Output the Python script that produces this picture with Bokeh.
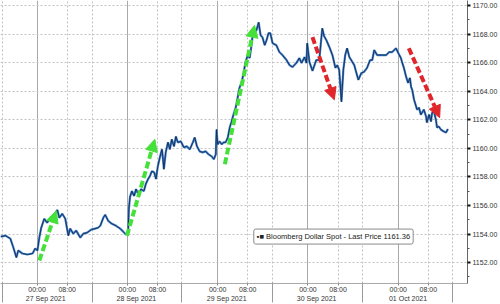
from bokeh.plotting import figure
from bokeh.models import (FixedTicker, LinearAxis, Grid, Arrow, NormalHead,
                          Label, Range1d, PrintfTickFormatter)
from bokeh.embed import file_html
from bokeh.resources import INLINE

# hours since 27 Sep 2021 00:00
hours = [-9.7, -8.4, -7.1, -6.3, -5.5, -5.0, -3.9, -2.6, -1.2, -0.5, 0.1, 0.6, 1.1, 1.9, 2.7,
         3.5, 4.3, 5.4, 5.9, 6.7, 7.5, 8.3, 8.8, 9.6, 10.4, 11.5, 12.3, 13.3, 14.4, 15.4,
         16.2, 16.8, 17.6, 18.1, 18.9, 19.9, 21.0, 22.1, 22.9, 23.6, 24.2, 24.4, 24.7, 25.2,
         25.8, 26.3, 27.1, 27.6, 28.4, 28.9, 29.5, 30.0, 30.5, 31.1, 31.6, 32.1, 32.7, 33.2,
         33.4, 33.7, 34.2, 34.8, 35.3, 35.8, 36.4, 36.9, 37.4, 38.2, 39.0, 39.8, 40.6, 41.4,
         41.9, 42.5, 43.2, 44.0, 44.8, 45.6, 46.4, 47.0, 47.5, 47.7, 48.0, 48.5, 49.1, 49.6,
         50.1, 50.7, 51.2, 51.7, 52.2, 52.8, 53.3, 53.8, 54.4, 54.9, 55.4, 56.0, 56.5, 57.0,
         57.3, 57.8, 58.3, 58.9, 59.4, 59.9, 60.5, 61.0, 61.5, 62.0, 62.6, 63.6, 64.4, 65.2,
         66.3, 67.1, 67.9, 68.9, 69.7, 70.3, 71.1, 71.6, 71.8, 72.4, 73.2, 74.2, 75.0, 75.8,
         76.3, 76.9, 77.7, 78.5, 79.3, 79.8, 80.3, 80.9, 81.4, 81.9, 82.4, 83.0, 83.5, 84.3,
         84.8, 85.4, 86.2, 86.9, 87.7, 88.5, 89.1, 89.6, 90.4, 91.5, 92.8, 93.6, 94.4, 95.4,
         96.0, 96.7, 97.0, 97.5, 98.1, 98.6, 99.1, 99.4, 99.7, 100.2, 101.0, 101.5, 102.0,
         102.8, 103.4, 103.6, 104.2, 104.7, 105.0, 105.5, 106.0, 106.3, 106.8, 107.3, 108.1,
         108.7, 109.2]
price = [1153.82, 1153.89, 1153.68, 1153.06, 1152.36, 1152.85, 1152.64, 1152.57, 1152.64,
         1152.99, 1152.85, 1153.75, 1154.44, 1155.07, 1154.79, 1155.14, 1155.28, 1155.69,
         1155.14, 1155.42, 1155.07, 1153.89, 1154.38, 1154.03, 1154.24, 1153.75, 1154.03,
         1154.10, 1154.31, 1154.38, 1154.44, 1154.58, 1155.14, 1155.35, 1154.93, 1154.72,
         1154.58, 1154.38, 1154.17, 1153.96, 1154.10, 1155.76, 1156.60, 1157.01, 1156.67,
         1157.15, 1156.67, 1157.15, 1157.01, 1157.50, 1157.85, 1158.06, 1158.40, 1158.33,
         1157.85, 1158.75, 1159.44, 1159.93, 1159.44, 1158.54, 1159.72, 1160.42, 1159.93,
         1160.63, 1160.14, 1160.83, 1160.42, 1160.49, 1160.07, 1160.14, 1159.93, 1160.42,
         1160.76, 1160.14, 1159.79, 1159.72, 1159.79, 1159.58, 1159.44, 1159.24, 1159.58,
         1161.32, 1160.28, 1160.49, 1160.28, 1160.42, 1160.42, 1160.76, 1161.46, 1161.88,
         1162.36, 1162.85, 1163.54, 1164.24, 1164.65, 1165.28, 1166.04, 1166.53, 1166.32,
         1167.22, 1167.92, 1168.13, 1168.26, 1168.82, 1167.92, 1167.78, 1167.22, 1167.57,
         1168.06, 1168.06, 1167.36, 1167.22, 1166.74, 1166.53, 1166.18, 1165.83, 1165.69,
         1165.97, 1166.32, 1165.97, 1166.39, 1165.97, 1167.36, 1166.04, 1165.42, 1166.18,
         1166.18, 1168.40, 1167.85, 1167.57, 1167.08, 1166.53, 1165.63, 1165.83, 1165.49,
         1163.26, 1165.49, 1166.53, 1167.01, 1166.39, 1166.18, 1165.83, 1165.35, 1164.79,
         1165.28, 1165.35, 1165.63, 1166.18, 1166.18, 1166.88, 1166.53, 1166.53, 1166.53,
         1166.74, 1166.74, 1167.01, 1166.67, 1166.32, 1166.04, 1165.63, 1165.00, 1164.58,
         1164.93, 1164.31, 1164.10, 1163.40, 1162.71, 1162.85, 1162.36, 1162.71, 1162.22,
         1161.81, 1162.36, 1161.88, 1162.50, 1162.57, 1162.01, 1161.46, 1161.53, 1161.32,
         1161.18, 1161.11, 1161.36]

day_start_hours = [0, 24, 48, 72, 96]
time_tick_hours = [0, 8, 24, 32, 48, 56, 72, 80, 96, 104]
time_tick_labels = ["00:00", "08:00"] * 5
section_hours = [-9.3, 14.6, 38.5, 62.6, 86.4, 110.3]
date_label_hours = [2.3, 26.4, 50.4, 74.3, 98.6]
date_labels = ["27 Sep 2021", "28 Sep 2021", "29 Sep 2021", "30 Sep 2021", "01 Oct 2021"]
price_ticks = [1152, 1154, 1156, 1158, 1160, 1162, 1164, 1166, 1168, 1170]
price_minor_ticks = [1151, 1153, 1155, 1157, 1159, 1161, 1163, 1165, 1167, 1169]
last_price = 1161.36
series_name = "Bloomberg Dollar Spot - Last Price"

# annotation arrows: (x_start, y_start, x_end, y_end)
green_arrows = [(0.6, 1152.15, 5.1, 1155.63), (23.9, 1153.89, 31.3, 1160.63),
                (49.9, 1158.89, 57.8, 1168.61)]
red_arrows = [(73.2, 1167.78, 79.0, 1163.40), (98.8, 1167.01, 107.0, 1162.15)]

FONT = "Liberation Sans"

p = figure(width=500, height=304, output_backend="svg", toolbar_location=None,
           x_range=Range1d(-9.72, 114.4), y_range=Range1d(1150.54, 1170.35),
           y_axis_location="right", min_border_left=0, min_border_top=0,
           min_border_right=0, min_border_bottom=0, background_fill_color="white",
           border_fill_color="white")
p.outline_line_color = None
p.grid.visible = False

p.add_layout(Grid(dimension=0, ticker=FixedTicker(ticks=day_start_hours),
                  grid_line_color="#a9a9a9", grid_line_width=1))
p.add_layout(Grid(dimension=0,
                  ticker=FixedTicker(ticks=[h for h in time_tick_hours if h % 24] + section_hours),
                  grid_line_color="#c2c2c2", grid_line_width=1, grid_line_dash="2 2"))
p.add_layout(Grid(dimension=1, ticker=FixedTicker(ticks=price_ticks),
                  grid_line_color="#c2c2c2", grid_line_width=1, grid_line_dash="2 2"))

p.line(hours, price, line_color="#4383d0", line_width=2.2)
p.line(hours, price, line_color="#142a4d", line_width=0.9)

for (x0, y0, x1, y1) in green_arrows:
    p.add_layout(Arrow(x_start=x0, y_start=y0, x_end=x1, y_end=y1,
                       line_color="#45e03a", line_width=4, line_dash="7 3",
                       end=NormalHead(size=12, fill_color="#45e03a", line_color="#45e03a")))
for (x0, y0, x1, y1) in red_arrows:
    p.add_layout(Arrow(x_start=x0, y_start=y0, x_end=x1, y_end=y1,
                       line_color="#e0262a", line_width=4, line_dash="7 3",
                       end=NormalHead(size=12, fill_color="#e0262a", line_color="#e0262a")))

# right price axis
ya = p.yaxis[0]
ya.ticker = FixedTicker(ticks=price_ticks, minor_ticks=price_minor_ticks)
ya.formatter = PrintfTickFormatter(format="%.2f")
ya.axis_line_color = "#666666"
ya.major_tick_line_color = "#111111"
ya.major_tick_line_width = 2
ya.major_tick_out = 3
ya.major_tick_in = 0
ya.minor_tick_line_color = "#555555"
ya.minor_tick_out = 2
ya.minor_tick_in = 0
ya.major_label_standoff = 2
ya.major_label_text_font = FONT
ya.major_label_text_font_size = "7px"
ya.major_label_text_color = "#333333"

# time axis
xa = p.xaxis[0]
xa.ticker = FixedTicker(ticks=time_tick_hours)
xa.major_label_overrides = dict(zip(time_tick_hours, time_tick_labels))
xa.axis_line_color = "#aaaaaa"
xa.major_tick_line_color = "#888888"
xa.major_tick_out = 2
xa.major_tick_in = 0
xa.minor_tick_line_color = None
xa.minor_tick_out = 0
xa.minor_tick_in = 0
xa.major_label_standoff = 0
xa.major_label_text_font = FONT
xa.major_label_text_font_size = "7px"
xa.major_label_text_color = "#333333"

# date axis (section separators as its minor ticks)
date_axis = LinearAxis(ticker=FixedTicker(ticks=date_label_hours, minor_ticks=section_hours),
                       major_label_overrides=dict(zip(date_label_hours, date_labels)),
                       axis_line_color=None, major_tick_line_color=None,
                       major_tick_out=0, major_tick_in=0,
                       minor_tick_line_color="#9a9a9a", minor_tick_in=13, minor_tick_out=7,
                       major_label_standoff=-8,
                       major_label_text_font=FONT, major_label_text_font_size="7px",
                       major_label_text_color="#333333")
p.add_layout(date_axis, "below")

# legend box
p.add_layout(Label(x=57.6, y=1153.3, text="\u25aa\u25a0 %s %.2f" % (series_name, last_price),
                   text_font=FONT, text_font_size="7.5px", text_color="#222222",
                   text_baseline="bottom", background_fill_color="white",
                   border_line_color="#8a8a8a", border_line_width=1, padding=3,
                   border_radius=2))

# last price tag
p.add_layout(Label(x=471, y=last_price, x_units="screen", text="%.2f" % last_price,
                   text_font=FONT, text_font_size="7.5px", text_color="white",
                   text_baseline="middle", background_fill_color="black",
                   padding=2, border_radius=2))

open("out.html", "w").write(file_html(p, INLINE))
